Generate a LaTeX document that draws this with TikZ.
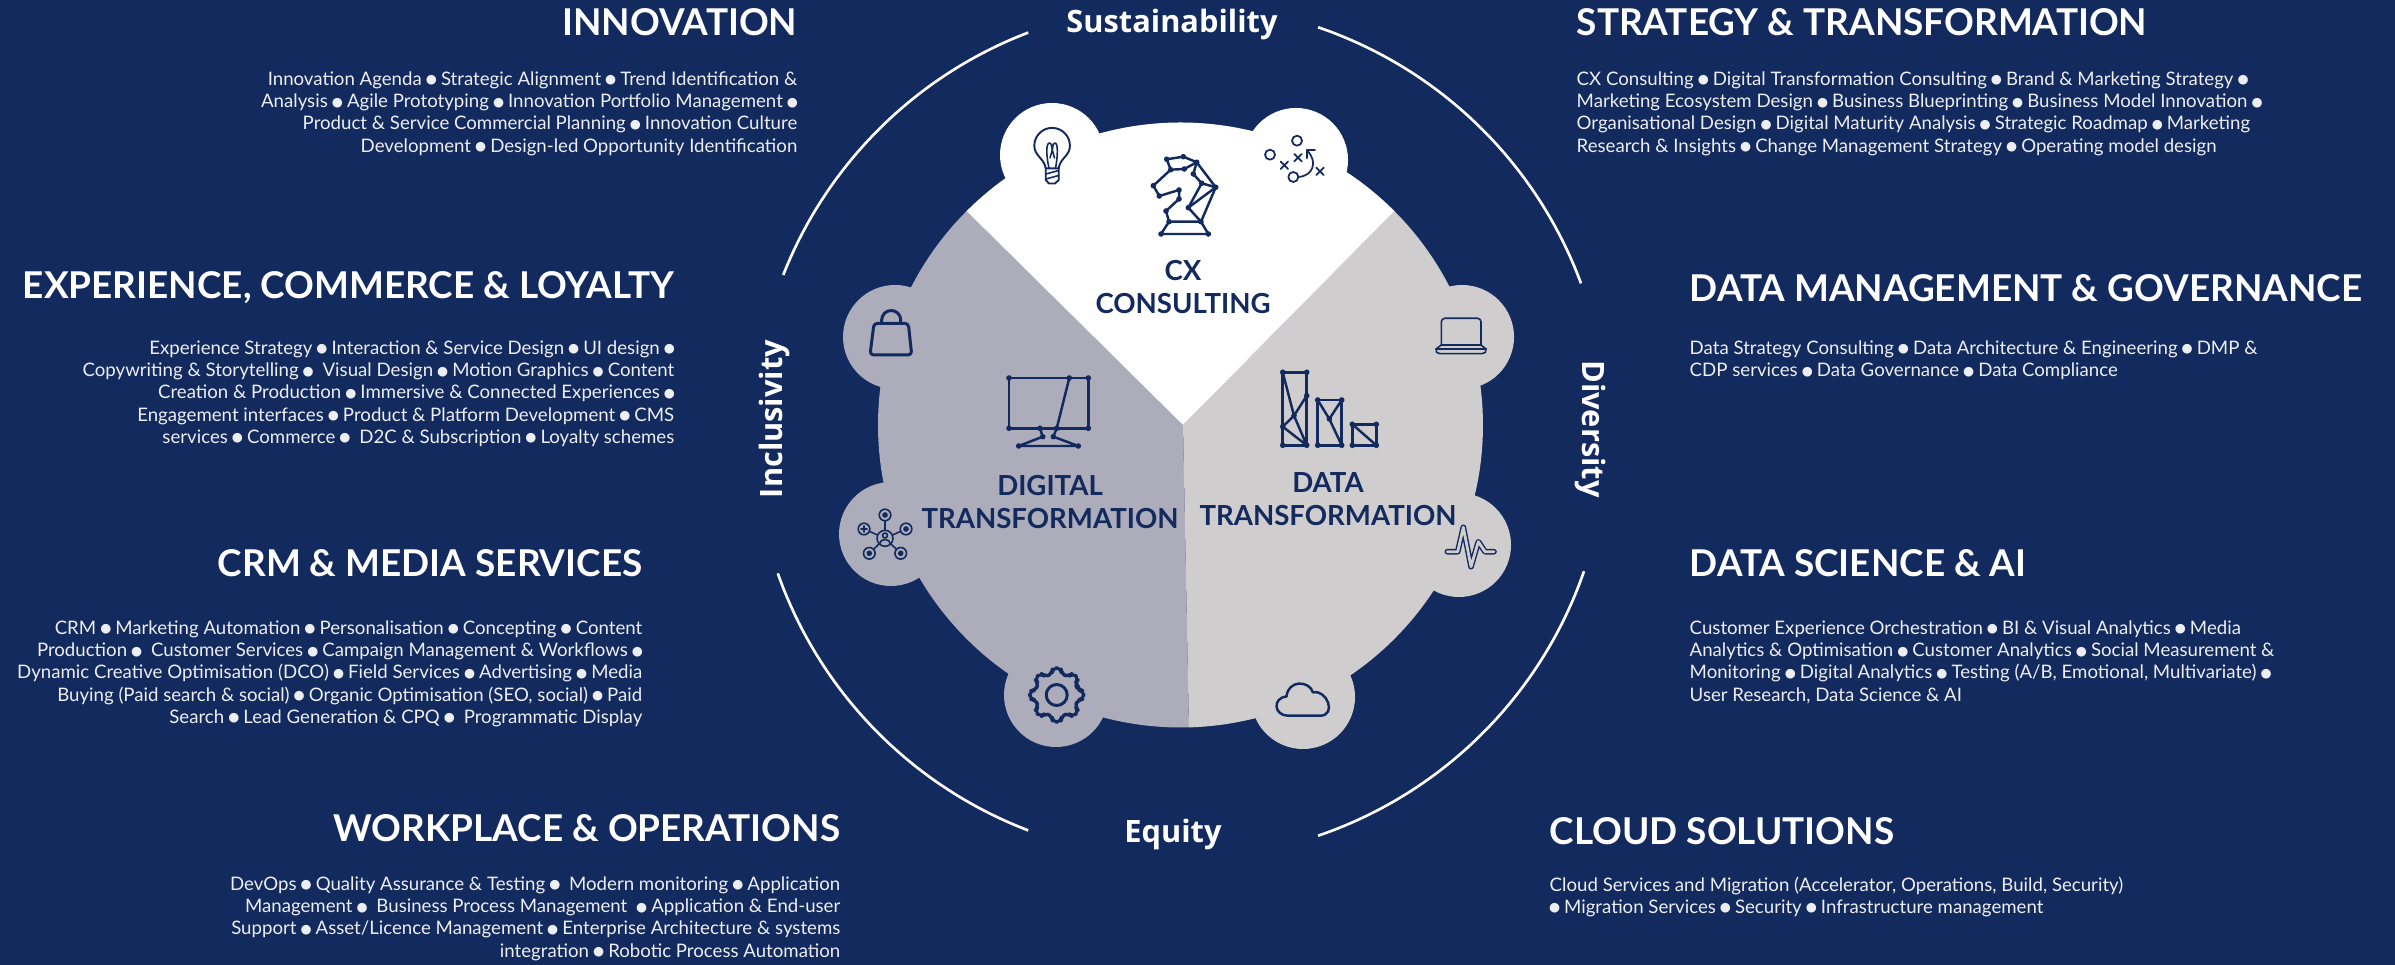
\documentclass[tikz,border=0pt]{standalone}
\usepackage{fontspec}
\setmainfont{Lato}
\newfontfamily\ringfont{Open Sans}
\newfontfamily\dotfont{DejaVu Sans}
\newcommand{\bul}{\kern-0.2pt\raisebox{0.42pt}{\dotfont\fontsize{3.6}{6}\selectfont ●}\kern-0.2pt}
\definecolor{navy}{HTML}{132A5E}
\definecolor{greyleft}{HTML}{ADACBA}
\definecolor{greyright}{HTML}{CFCDCE}
\tikzset{
  headright/.style={anchor=east, inner sep=0pt, text=white, font=\bfseries\fontsize{10.5}{12}\selectfont},
  headleft/.style={anchor=west, inner sep=0pt, text=white, font=\bfseries\fontsize{10.5}{12}\selectfont},
  bodyright/.style={anchor=north east, inner sep=0pt, align=right, text=white!92!navy, font=\fontsize{5.3}{6.33}\selectfont},
  bodyleft/.style={anchor=north west, inner sep=0pt, align=left, text=white!92!navy, font=\fontsize{5.3}{6.33}\selectfont},
  ringlabel/.style={inner sep=0pt, text=white, font=\ringfont\bfseries\fontsize{8.75}{11}\selectfont},
  unitlabel/.style={inner sep=0pt, align=center, text=navy, font=\bfseries\fontsize{7.85}{9.5}\selectfont},
  iconline/.style={draw=navy, line width=0.7pt, line join=round, line cap=round},
  thinline/.style={draw=navy, line width=0.45pt, line join=round, line cap=round},
}
\begin{document}
\begin{tikzpicture}[x=0.01cm, y=-0.01cm]
  % Background
  \fill[navy] (0,0) rectangle (2395,965);
  \useasboundingbox (0,0) rectangle (2395,965);

  % Outer ring, four arcs
  \coordinate (ringc) at (1180.5,431.5);
  \foreach \a/\b in {-71.2/-20.3, 19.1/71.2, 110.9/160.6, 201.5/249.1}
    \draw[white, line width=0.75pt] (ringc) ++(\a:427) arc (\a:\b:427);

  % Wheel bumps
  \foreach \x/\y in {1052/155, 1296/160} \fill[white] (\x,\y) circle (52);
  \foreach \x/\y in {895/337, 891/534, 1056/695} \fill[greyleft] (\x,\y) circle (52);
  \foreach \x/\y in {1462/337, 1459/545, 1303/697} \fill[greyright] (\x,\y) circle (52);

  % Wheel sectors
  \coordinate (hub) at (1183,425);
  \coordinate (upleft) at (966.6,211.1);
  \coordinate (upright) at (1394.4,211.1);
  \coordinate (low) at (1188.9,727.4);
  \fill[greyleft] (hub) -- (upleft) arc (225:88.4:302.5) -- cycle;
  \fill[greyright] (hub) -- (low) arc (88.4:-45:302.5) -- cycle;
  \fill[white] (hub) -- (upleft) arc (-135:-45:302.5) -- cycle;

  % Ring labels
  \node[ringlabel] (sustain) at (1172,24.5) {Sustainability};
  \node[ringlabel] (equity) at (1173,835) {Equity};
  \node[ringlabel, rotate=90] (inclusive) at (774,419) {Inclusivity};
  \node[ringlabel, rotate=-90] (diverse) at (1590,429) {Diversity};

  % Unit labels
  \node[unitlabel] (cx) at (1183,287) {CX\\CONSULTING};
  \node[unitlabel] (digital) at (1050,502) {DIGITAL\\TRANSFORMATION};
  \node[unitlabel] (data) at (1328,499) {DATA\\TRANSFORMATION};

  % Left column
  \node[headright] (innovation) at (798,22) {INNOVATION};
  \node[bodyright] (innovationtext) at (798,71) {Innovation Agenda \bul{} Strategic Alignment \bul{} Trend Identification \&\\Analysis \bul{} Agile Prototyping \bul{} Innovation Portfolio Management \bul\\Product \& Service Commercial Planning \bul{} Innovation Culture\\Development \bul{} Design-led Opportunity Identification};

  \node[headright] (experience) at (675,288) {EXPERIENCE, COMMERCE \& LOYALTY};
  \node[bodyright] (experiencetext) at (675,340) {Experience Strategy \bul{} Interaction \& Service Design \bul{} UI design \bul\\Copywriting \& Storytelling \bul\ \ Visual Design \bul{} Motion Graphics \bul{} Content\\Creation \& Production \bul{} Immersive \& Connected Experiences \bul\\Engagement interfaces \bul{} Product \& Platform Development \bul{} CMS\\services \bul{} Commerce \bul\ \ D2C \& Subscription \bul{} Loyalty schemes};

  \node[headright] (crm) at (643,563) {CRM \& MEDIA SERVICES};
  \node[bodyright] (crmtext) at (643,620) {CRM \bul{} Marketing Automation \bul{} Personalisation \bul{} Concepting \bul{} Content\\Production \bul\ \ Customer Services \bul{} Campaign Management \& Workflows \bul\\Dynamic Creative Optimisation (DCO) \bul{} Field Services \bul{} Advertising \bul{} Media\\Buying (Paid search \& social) \bul{} Organic Optimisation (SEO, social) \bul{} Paid\\Search \bul{} Lead Generation \& CPQ \bul\ \ Programmatic Display};

  \node[headright] (workplace) at (841,828) {WORKPLACE \& OPERATIONS};
  \node[bodyright] (workplacetext) at (841,876) {DevOps \bul{} Quality Assurance \& Testing \bul\ \ Modern monitoring \bul{} Application\\Management \bul\ \ Business Process Management\ \ \bul{} Application \& End-user\\Support \bul{} Asset/Licence Management \bul{} Enterprise Architecture \& systems\\integration \bul{} Robotic Process Automation};

  % Right column
  \node[headleft] (strategy) at (1576,22) {STRATEGY \& TRANSFORMATION};
  \node[bodyleft] (strategytext) at (1576,71) {CX Consulting \bul{} Digital Transformation Consulting \bul{} Brand \& Marketing Strategy \bul\\Marketing Ecosystem Design \bul{} Business Blueprinting \bul{} Business Model Innovation \bul\\Organisational Design \bul{} Digital Maturity Analysis \bul{} Strategic Roadmap \bul{} Marketing\\Research \& Insights \bul{} Change Management Strategy \bul{} Operating model design};

  \node[headleft] (manage) at (1689,288) {DATA MANAGEMENT \& GOVERNANCE};
  \node[bodyleft] (managetext) at (1689,340) {Data Strategy Consulting \bul{} Data Architecture \& Engineering \bul{} DMP \&\\CDP services \bul{} Data Governance \bul{} Data Compliance};

  \node[headleft] (science) at (1689,563) {DATA SCIENCE \& AI};
  \node[bodyleft] (sciencetext) at (1689,620) {Customer Experience Orchestration \bul{} BI \& Visual Analytics \bul{} Media\\Analytics \& Optimisation \bul{} Customer Analytics \bul{} Social Measurement \&\\Monitoring \bul{} Digital Analytics \bul{} Testing (A/B, Emotional, Multivariate) \bul\\User Research, Data Science \& AI};

  \node[headleft] (cloud) at (1549,831) {CLOUD SOLUTIONS};
  \node[bodyleft] (cloudtext) at (1549,876) {Cloud Services and Migration (Accelerator, Operations, Build, Security)\\\bul{} Migration Services \bul{} Security \bul{} Infrastructure management};

  % Knight
  \draw[iconline] (1166.7,159.3) -- (1183.3,156.7) -- (1196.7,162.3) -- (1184.3,169) -- (1170.7,169.7) -- cycle;
  \draw[iconline] (1170.7,169.7) -- (1153.3,185.7) -- (1159.3,196) -- (1179,190) -- (1179,199) -- (1166,211) -- (1169,221.7);
  \draw[iconline] (1169,221.7) -- (1201,221.7) -- (1208.3,234) -- (1161,234) -- cycle;
  \draw[iconline] (1196.7,162.3) -- (1215.7,187.3) -- (1201,221.7) -- (1188.3,207.7) -- (1201.7,183.3) -- (1193.3,174) -- (1196.7,162.3);
  \draw[iconline] (1188.3,207.7) -- (1215.7,187.3) -- (1201.7,183.3);
  \foreach \x/\y in {1166.7/159.3, 1183.3/156.7, 1196.7/162.3, 1184.3/169, 1170.7/169.7, 1153.3/185.7, 1159.3/196, 1179/190, 1179/199, 1166/211, 1169/221.7, 1201/221.7, 1208.3/234, 1161/234, 1188.3/207.7, 1215.7/187.3, 1201.7/183.3, 1193.3/174}
    \fill[navy] (\x,\y) circle (2.8);

  % Bulb
  \draw[thinline, line width=0.55pt] (1045.7,168.3) .. controls (1044,158) and (1034.3,156) .. (1034.3,145.7) arc (180:360:17.8) .. controls (1070,156) and (1060,158) .. (1058.7,168.3);
  \draw[thinline, line width=0.55pt] (1045.7,168.3) -- (1058.7,168.3) -- (1058.7,180) -- (1055,183.5) -- (1049,183.5) -- (1045.7,180) -- cycle;
  \draw[thinline] (1046,174) -- (1058.7,170.5) (1046,179) -- (1058.7,175.5);
  \draw[thinline] (1049,168.3) .. controls (1046,155) and (1046,143) .. (1049.5,143) .. controls (1051.5,143) and (1052,147) .. (1052.3,150) .. controls (1052.6,147) and (1053,143) .. (1055,143) .. controls (1058,143) and (1058,155) .. (1055.5,168.3);
  \draw[thinline] (1052.3,150) -- (1050,158) (1052.3,150) -- (1054.5,158);

  % Play diagram
  \foreach \x/\y in {1297/140.7, 1270/154.7, 1293.3/177} \draw[thinline, line width=0.5pt] (\x,\y) circle (5);
  \foreach \x/\y in {1284.3/165.3, 1298/157.7, 1320/171.3}
    \draw[thinline, line width=0.5pt] (\x-3.7,\y-3.7) -- (\x+3.7,\y+3.7) (\x-3.7,\y+3.7) -- (\x+3.7,\y-3.7);
  \draw[thinline, line width=0.5pt] (1298.3,177) .. controls (1313,176) and (1318,162) .. (1307.5,151);
  \draw[thinline, line width=0.5pt] (1315,150) -- (1306.7,150) -- (1306.7,158.3);

  % Bag
  \draw[iconline, line width=0.85pt, rounded corners=1] (874,323.3) -- (908.3,323.3) -- (911.7,355) -- (870,355) -- cycle;
  \draw[iconline, line width=0.85pt] (881.7,322) -- (881.7,320) arc (180:360:9.5) -- (900.7,322);

  % Monitor
  \draw[iconline] (1009,378) rectangle (1088.3,428.3);
  \draw[iconline] (1069.3,378) -- (1056.7,428.3) -- (1053.3,436.7) -- (1078.3,446) -- (1018.7,446) -- (1042.7,436.7) -- (1040,428.3);
  \foreach \x/\y in {1009/378, 1069.3/378, 1088.3/378, 1009/428.3, 1040/428.3, 1056.7/428.3, 1088.3/428.3, 1042.7/436.7, 1053.3/436.7, 1018.7/446, 1078.3/446}
    \fill[navy] (\x,\y) circle (2.8);

  % Bars
  \draw[iconline] (1282.7,372.3) rectangle (1306.7,445.3);
  \draw[iconline] (1282.7,372.3) -- (1294,415.7) -- (1306.7,445.3) -- (1282.7,426.7) -- (1294,415.7) -- (1306.7,395.7);
  \draw[iconline] (1317.7,400) rectangle (1341.7,445.3);
  \draw[iconline] (1317.7,400) -- (1329.3,419) -- (1341.7,445.3) (1341.7,400) -- (1329.3,419);
  \draw[iconline] (1352.3,424.3) rectangle (1376.3,445.3);
  \draw[iconline] (1352.3,424.3) -- (1376.3,445.3);
  \foreach \x/\y in {1282.7/372.3, 1306.7/372.3, 1306.7/395.7, 1294/415.7, 1282.7/426.7, 1282.7/445.3, 1306.7/445.3, 1317.7/400, 1341.7/400, 1329.3/419, 1317.7/445.3, 1341.7/445.3, 1352.3/424.3, 1376.3/424.3, 1352.3/445.3, 1376.3/445.3}
    \fill[navy] (\x,\y) circle (2.8);

  % Laptop
  \draw[thinline, rounded corners=1] (1441.3,345) -- (1441.3,318.3) -- (1481,318.3) -- (1481,345);
  \draw[thinline] (1441.3,345) -- (1481,345) -- (1486,349) -- (1436,349) -- cycle;
  \draw[thinline, rounded corners=1.5] (1436,349) -- (1434.5,353.7) -- (1487.5,353.7) -- (1486,349);

  % Social network
  \foreach \x/\y in {885/515, 864/529, 906/529, 869.3/553.3, 900.7/553.3} {
    \draw[thinline] (885,538.3) -- (\x,\y);
  }
  \fill[greyleft] (885,538.3) circle (8);
  \draw[thinline] (885,538.3) circle (8);
  \draw[thinline] (885,535.5) circle (2.5);
  \draw[thinline] (879.5,544) .. controls (880,538) and (890,538) .. (890.5,544);
  \foreach \x/\y in {885/515, 906/529, 869.3/553.3, 900.7/553.3} {
    \fill[greyleft] (\x,\y) circle (5.6);
    \draw[thinline] (\x,\y) circle (5.8);
    \fill[navy] (\x,\y) circle (2.8);
  }
  \fill[greyleft] (864,529) circle (5.6);
  \draw[thinline] (864,529) circle (5.8);
  \draw[thinline] (861,529) -- (867,529) (864,526) -- (864,532);

  % Pulse
  \draw[navy, line width=0.4pt, double=greyright, double distance=0.8pt, line join=round, line cap=round] (1447.3,551.7) -- (1457.7,551.7) -- (1463.3,527.3) -- (1471,566.7) -- (1478.3,541.7) -- (1485,551.7) -- (1494,551.7);

  % Gear
  \begin{scope}[shift={(1056.7,695)}]
    \draw[iconline, line width=0.85pt, rounded corners=1.5]
      (-13:21.5) \foreach \a in {0,45,...,315} { -- (\a-13:21.5) -- (\a-9:27.5) -- (\a+9:27.5) -- (\a+13:21.5) } -- cycle;
    \draw[iconline, line width=0.85pt] (0,0) circle (10.5);
  \end{scope}

  % Cloud
  \draw[iconline] (1288,715.7) .. controls (1274,715.7) and (1272,698) .. (1286.5,696.5) .. controls (1288,680) and (1309,680) .. (1313,692.5) .. controls (1327,689) and (1337,715.7) .. (1320,715.7) -- cycle;
\end{tikzpicture}
\end{document}
